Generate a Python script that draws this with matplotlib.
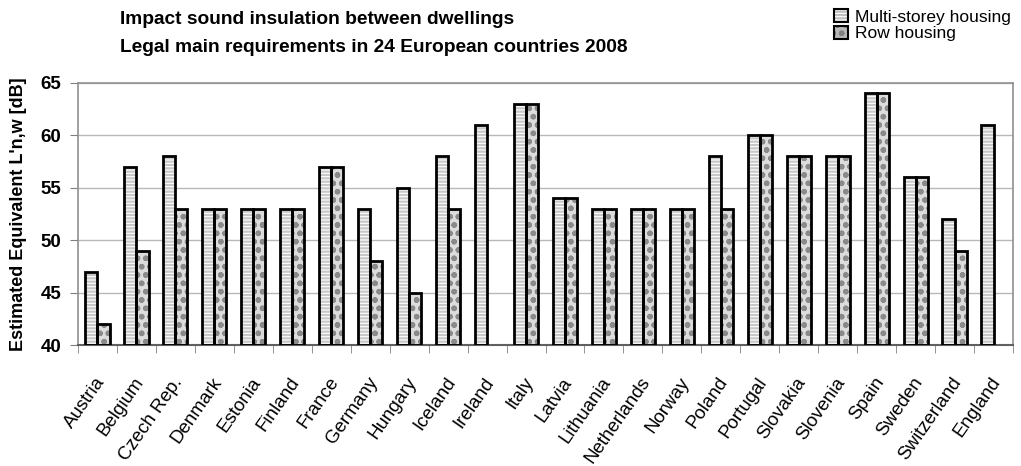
import matplotlib
matplotlib.use("Agg")
import matplotlib.pyplot as plt
import numpy as np
from matplotlib.patches import Patch
from matplotlib.legend_handler import HandlerTuple

countries = ["Austria", "Belgium", "Czech Rep.", "Denmark", "Estonia", "Finland", "France",
             "Germany", "Hungary", "Iceland", "Ireland", "Italy", "Latvia", "Lithuania",
             "Netherlands", "Norway", "Poland", "Portugal", "Slovakia", "Slovenia", "Spain",
             "Sweden", "Switzerland", "England"]
multi_storey = [47, 57, 58, 53, 53, 53, 57, 53, 55, 58, 61, 63, 54, 53, 53, 53, 58, 60, 58, 58, 64, 56, 52, 61]
row_housing = [42, 49, 53, 53, 53, 53, 57, 48, 45, 53, np.nan, 63, 54, 53, 53, 53, 53, 60, 58, 58, 64, 56, 49, np.nan]
yticks = [40, 45, 50, 55, 60, 65]

plt.rcParams['font.family'] = ['Liberation Sans', 'DejaVu Sans']
plt.rcParams['hatch.linewidth'] = 1.6

fig = plt.figure(figsize=(10.21, 4.66), dpi=100)
ax = fig.add_axes([78/1021, 1-345/466, (1013-78)/1021, (345-83)/466])

n = len(countries)
x = np.arange(n)
w = 0.31
base = 40
ms = np.array(multi_storey, dtype=float) - base
rh = np.array(row_housing, dtype=float) - base

# patterned fills
ax.bar(x - w/2, ms, w, bottom=base, color='white', edgecolor='#c8c8c8', hatch='-----', linewidth=0, zorder=2)
ax.bar(x + w/2, rh, w, bottom=base, color='#dcdcdc', edgecolor='#8a8a8a', hatch='oo', linewidth=0, zorder=2)
# black outlines
ax.bar(x - w/2, ms, w, bottom=base, fill=False, edgecolor='black', linewidth=2, zorder=3)
ax.bar(x + w/2, rh, w, bottom=base, fill=False, edgecolor='black', linewidth=2, zorder=3)

ax.set_xlim(-0.5, n - 0.5)
ax.set_ylim(40, 65)
ax.set_yticks(yticks)
ax.set_yticklabels([str(t) for t in yticks], fontsize=13.5, fontweight='bold')
ax.yaxis.grid(True, color='#b8b8b8', linewidth=1)
ax.set_axisbelow(True)

ax.set_xticks(x - 0.08)
ax.set_xticklabels(countries, rotation=55, ha='right', rotation_mode='anchor',
                   fontsize=13.5)
ax.set_xticks(np.arange(-0.5, n, 1), minor=True)
ax.tick_params(axis='x', which='major', length=0, pad=21)
ax.tick_params(axis='x', which='minor', length=6, color='#808080', direction='out')
ax.tick_params(axis='y', length=6, color='#808080', direction='out', pad=6)

for s in ['top', 'right', 'left']:
    ax.spines[s].set_color('#909090')
    ax.spines[s].set_linewidth(1.2)
ax.spines['bottom'].set_color('#606060')
ax.spines['bottom'].set_linewidth(1.5)

ax.set_ylabel("Estimated Equivalent L'n,w [dB]", fontsize=13, fontweight='bold', labelpad=10)

fig.text(120/1021, 1-20/466, "Impact sound insulation between dwellings", fontsize=13.8,
         fontweight='bold', va='center', ha='left')
fig.text(120/1021, 1-47/466, "Legal main requirements in 24 European countries 2008", fontsize=13.8,
         fontweight='bold', va='center', ha='left')

h1 = (Patch(facecolor='white', edgecolor='#c0c0c0', hatch='-----', linewidth=0),
      Patch(fill=False, edgecolor='black', linewidth=1.5))
h2 = (Patch(facecolor='#b8b8b8', edgecolor='#808080', hatch='oo', linewidth=0),
      Patch(fill=False, edgecolor='black', linewidth=1.5))
fig.legend([h1, h2], ["Multi-storey housing", "Row housing"], loc='upper right',
           bbox_to_anchor=(1.0, 1.003), frameon=False, fontsize=12.5, handlelength=0.8,
           handleheight=0.8, handletextpad=0.4, labelspacing=0.05, borderaxespad=0.2,
           handler_map={tuple: HandlerTuple(ndivide=1, pad=0)})

fig.savefig("out.png", dpi=100)
